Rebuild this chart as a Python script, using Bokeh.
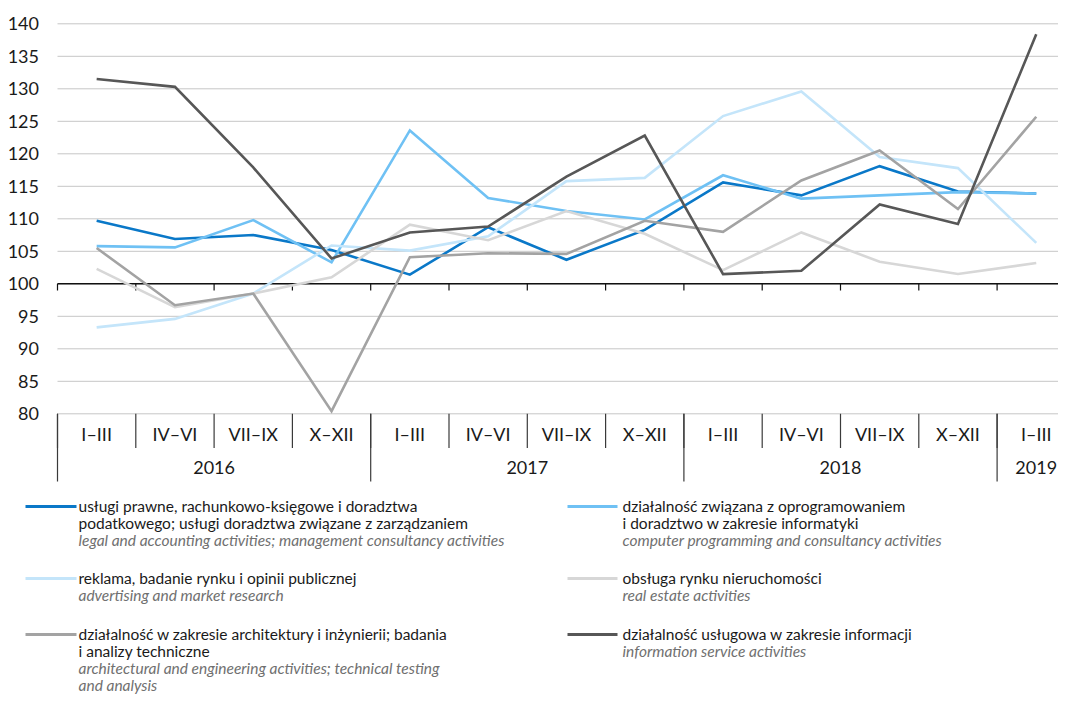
from bokeh.plotting import figure
from bokeh.models import Range1d
from bokeh.core.properties import value
from bokeh.embed import file_html
from bokeh.resources import INLINE

# ---------------- data ----------------
quarters = ["I–III", "IV–VI", "VII–IX", "X–XII",
            "I–III", "IV–VI", "VII–IX", "X–XII",
            "I–III", "IV–VI", "VII–IX", "X–XII",
            "I–III"]
years = ["2016", "2017", "2018", "2019"]
year_quarters = [4, 4, 4, 1]

legal = [109.7, 106.9, 107.5, 105.2, 101.4, 108.7, 103.7, 108.3, 115.6, 113.6, 118.1, 114.2, 113.9]
computer = [105.8, 105.6, 109.8, 103.3, 123.6, 113.2, 111.2, 109.9, 116.7, 113.1, 113.6, 114.1, 113.9]
advertising = [93.3, 94.6, 98.5, 105.9, 105.1, 107.3, 115.8, 116.3, 125.8, 129.6, 119.5, 117.8, 106.3]
real_estate = [102.3, 96.4, 98.5, 101.0, 109.1, 106.7, 111.2, 107.7, 102.1, 107.9, 103.4, 101.5, 103.2]
architecture = [105.5, 96.7, 98.5, 80.4, 104.1, 104.7, 104.6, 109.7, 108.0, 115.9, 120.5, 111.5, 125.7]
information = [131.5, 130.3, 117.9, 103.9, 107.9, 108.8, 116.5, 122.8, 101.5, 102.0, 112.2, 109.2, 138.4]

y_ticks = [80, 85, 90, 95, 100, 105, 110, 115, 120, 125, 130, 135, 140]

series = [legal, computer, advertising, real_estate, architecture, information]
colors = ["#0a78c8", "#6fc1f4", "#c4e5fa", "#d7d7d7", "#a3a3a3", "#575757"]

legend_pl = [
    ["usługi prawne, rachunkowo-księgowe i doradztwa",
     "podatkowego; usługi doradztwa związane z zarządzaniem"],
    ["działalność związana z oprogramowaniem",
     "i doradztwo w zakresie informatyki"],
    ["reklama, badanie rynku i opinii publicznej"],
    ["obsługa rynku nieruchomości"],
    ["działalność w zakresie architektury i inżynierii; badania",
     "i analizy techniczne"],
    ["działalność usługowa w zakresie informacji"],
]
legend_en = [
    ["legal and accounting activities; management consultancy activities"],
    ["computer programming and consultancy activities"],
    ["advertising and market research"],
    ["real estate activities"],
    ["architectural and engineering activities; technical testing",
     "and analysis"],
    ["information service activities"],
]

FONT = value("Lato")

# ---------------- layout geometry (pixels -> data) ----------------
W, H = 1058, 696
X0_PX, CAT_PX = 57.0, 78.3          # left edge of plot area, width of one quarter
Y140_PX, UNIT_PX = 23.3, 6.5        # pixel of value 140, pixels per unit


def X(px):
    return (px - X0_PX) / CAT_PX - 0.5


def Y(px):
    return 140 - (px - Y140_PX) / UNIT_PX


p = figure(width=W, height=H,
           x_range=Range1d(X(0), X(W)), y_range=Range1d(Y(H), Y(0)),
           output_backend="svg", toolbar_location=None,
           x_axis_location=None, y_axis_location=None,
           min_border=0, min_border_left=0, min_border_right=0,
           min_border_top=0, min_border_bottom=0)
p.outline_line_color = None
p.grid.visible = False
p.background_fill_color = "white"
p.border_fill_color = "white"

n = len(quarters)
xs = list(range(n))
x_left, x_right = -0.5, X(W)

# horizontal grid lines
p.segment(x0=[x_left] * len(y_ticks), y0=y_ticks, x1=[x_right] * len(y_ticks), y1=y_ticks,
          line_color="#c6c6c6", line_width=1)
# y tick labels
p.text(x=[X(38.5)] * len(y_ticks), y=y_ticks, text=[str(t) for t in y_ticks],
       text_align="right", text_baseline="middle", text_font=FONT,
       text_font_size="18px", text_color="#1a1a1a")

# boundaries between quarters / years
bounds = [i - 0.5 for i in range(n)]
year_starts = []
s = -0.5
for q in year_quarters:
    year_starts.append(s)
    s += q
year_centers = [st + q / 2 for st, q in zip(year_starts, year_quarters)]

# axis line at 100 with small ticks
p.segment(x0=[x_left], y0=[100], x1=[x_right], y1=[100], line_color="#111111", line_width=1.5)
p.segment(x0=bounds, y0=[100] * n, x1=bounds, y1=[Y(290)] * n,
          line_color="#111111", line_width=1.2)

# category separators below 80
p.segment(x0=bounds, y0=[80] * n, x1=bounds, y1=[Y(447.5)] * n,
          line_color="#3a3a3a", line_width=1.2)
p.segment(x0=year_starts, y0=[80] * len(years), x1=year_starts, y1=[Y(481)] * len(years),
          line_color="#3a3a3a", line_width=1.2)

p.text(x=xs, y=[Y(433.5)] * n, text=quarters, text_align="center", text_baseline="middle",
       text_font=FONT, text_font_size="18px", text_color="#1a1a1a")
p.text(x=year_centers, y=[Y(466.5)] * len(years), text=years, text_align="center",
       text_baseline="middle", text_font=FONT, text_font_size="18px", text_color="#1a1a1a")

# data series
for ser, c in zip(series, colors):
    p.line(xs, ser, line_color=c, line_width=2.6, line_join="miter")

# ---------------- legend ----------------
col_sample = [(25, 76), (567, 617)]
col_text = [78, 622]
row_px = [505, 577, 633]
lsp = 17.3

for i in range(len(series)):
    r, cidx = divmod(i, 2)
    y0 = row_px[r]
    sx0, sx1 = col_sample[cidx]
    p.segment(x0=[X(sx0)], y0=[Y(y0 + 1)], x1=[X(sx1)], y1=[Y(y0 + 1)],
              line_color=colors[i], line_width=3)
    lines_pl = legend_pl[i]
    lines_en = legend_en[i]
    ys_pl = [Y(y0 + k * lsp) for k in range(len(lines_pl))]
    ys_en = [Y(y0 + (len(lines_pl) + k) * lsp) for k in range(len(lines_en))]
    p.text(x=[X(col_text[cidx])] * len(lines_pl), y=ys_pl, text=lines_pl,
           text_align="left", text_baseline="middle", text_font=FONT,
           text_font_size="15.5px", text_color="#1a1a1a")
    p.text(x=[X(col_text[cidx])] * len(lines_en), y=ys_en, text=lines_en,
           text_align="left", text_baseline="middle", text_font=FONT,
           text_font_size="15.5px", text_font_style="italic", text_color="#707070")

open("out.html", "w").write(file_html(p, INLINE))
